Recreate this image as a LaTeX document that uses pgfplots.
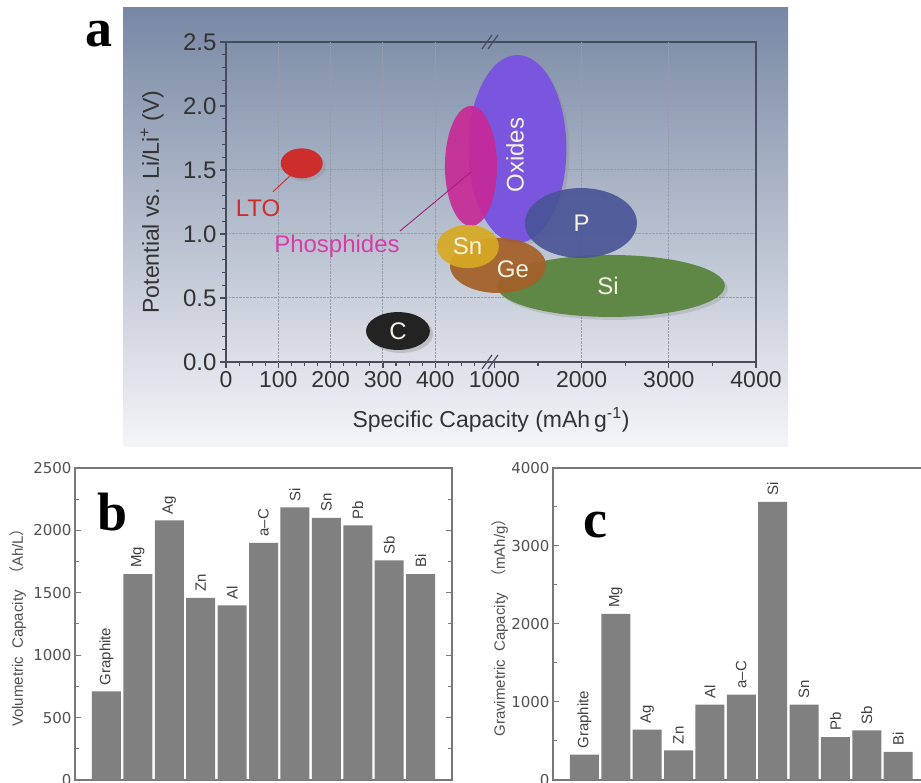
\documentclass[border=0pt]{standalone}
\usepackage{pgfplots}
\pgfplotsset{compat=1.18}
\usepackage{pgfplotstable}
\usepackage{fontspec}
\setmainfont{Liberation Sans}
\newfontfamily\dejavu{DejaVu Sans}
\newfontfamily\serifb{Liberation Serif}
\newfontfamily\cjk{Noto Sans CJK SC}
\usetikzlibrary{shadows}

\definecolor{bgtop}{RGB}{120,136,164}
\definecolor{bgmid}{RGB}{182,191,207}
\definecolor{bgbot}{RGB}{244,245,248}
\definecolor{axisdark}{RGB}{70,76,92}
\definecolor{gridc}{RGB}{150,156,172}
\definecolor{ltoc}{RGB}{205,45,45}
\definecolor{phosc}{RGB}{200,40,150}
\definecolor{phostext}{RGB}{215,60,170}
\definecolor{oxc}{RGB}{122,85,222}
\definecolor{pc}{RGB}{72,84,150}
\definecolor{sic}{RGB}{95,135,70}
\definecolor{gec}{RGB}{165,95,40}
\definecolor{snc}{RGB}{215,170,35}
\definecolor{cc}{RGB}{35,35,35}
\definecolor{lbl}{RGB}{245,242,225}
\definecolor{barc}{RGB}{128,128,128}
\definecolor{framec}{RGB}{120,120,120}
\definecolor{tickc}{RGB}{80,80,80}

\newcommand\fa{\fontsize{23}{26}\selectfont}
\newcommand\fe{\fontsize{24}{27}\selectfont}
\newcommand\fb{\dejavu\fontsize{15}{17}\selectfont}
\newcommand\fl{\fontsize{15}{17}\selectfont}

\pgfplotstableread{
x y label
0 710 Graphite
1 1650 Mg
2 2080 Ag
3 1460 Zn
4 1400 Al
5 1900 a–C
6 2185 Si
7 2100 Sn
8 2040 Pb
9 1760 Sb
10 1650 Bi
}\volumetric

\pgfplotstableread{
x y label
0 325 Graphite
1 2130 Mg
2 645 Ag
3 380 Zn
4 965 Al
5 1095 a–C
6 3565 Si
7 965 Sn
8 550 Pb
9 635 Sb
10 360 Bi
}\gravimetric

\pgfplotsset{
  barpanel/.style={
    scale only axis, anchor=south west,
    xmin=-1, xmax=11, ymin=0,
    ybar, bar width=29pt,
    xtick=\empty,
    ytick pos=both,
    tick align=inside,
    major tick length=6pt, minor tick length=4pt,
    minor y tick num=1,
    axis line style={draw=framec, line width=1.2pt},
    tick style={draw=framec, line width=1pt},
    scaled y ticks=false,
    /pgf/number format/1000 sep={},
    /pgf/number format/assume math mode=true,
    yticklabel style={font=\fb, text=tickc},
    ylabel style={font=\fl, text=tickc, anchor=center},
    clip=false,
    every node near coord/.append style={rotate=90, anchor=west, font=\fl, text=black!75, inner xsep=6pt, inner ysep=0pt},
  }
}

\begin{document}
\begin{tikzpicture}
\path[use as bounding box] (0pt,0pt) rectangle (921pt,783pt);
\clip (0pt,0pt) rectangle (921pt,783pt);

% background of panel a
\shade[top color=bgtop, middle color=bgmid, bottom color=bgbot] (123pt,336pt) rectangle (788pt,775pt);

\begin{axis}[
  at={(226pt,421pt)}, anchor=south west, scale only axis,
  width=530pt, height=320pt,
  xmin=0, xmax=1013, ymin=0, ymax=2.5,
  axis line style={draw=axisdark, line width=1.5pt},
  xtick={0,100,200,300,400,513,679.67,846.33,1013},
  xticklabels={0,100,200,300,400,1000,2000,3000,4000},
  minor xtick={25,50,75,125,150,175,225,250,275,325,350,375,425,450,475,596.33,763,929.67},
  ytick={0,0.5,1,1.5,2,2.5},
  yticklabels={0.0,0.5,1.0,1.5,2.0,2.5},
  minor ytick={0.1,0.2,0.3,0.4,0.6,0.7,0.8,0.9,1.1,1.2,1.3,1.4,1.6,1.7,1.8,1.9,2.1,2.2,2.3,2.4},
  xtick pos=bottom, ytick pos=left,
  tick align=outside,
  major tick length=6pt, minor tick length=4pt,
  tick style={draw=axisdark, line width=1.1pt},
  ymajorgrids,
  grid style={densely dotted, draw=gridc, line width=1pt},
  extra x ticks={100,200,300,400,679.67,846.33},
  extra x tick labels={},
  extra x tick style={grid=major, major tick length=0pt},
  ticklabel style={font=\fa, text=black!80},
  yticklabel style={font=\fontsize{24}{26}\selectfont},
  xlabel={Specific Capacity (mAh\,g\textsuperscript{-1})},
  ylabel={Potential vs. Li/Li\textsuperscript{+} (V)},
  xlabel style={font=\fa, text=black!80, at={(axis description cs:0.5,-0.181)}, anchor=center},
  ylabel style={font=\fa, text=black!80, at={(axis description cs:-0.1396,0.5)}, anchor=center},
  clip=false,
]
\addplot[draw=none] coordinates {(0,0)};
% regions
\draw[fill=oxc, draw=none, drop shadow={shadow xshift=3pt, shadow yshift=-3pt, opacity=0.25}] (axis cs:557,1.664) ellipse [x radius=93.6, y radius=0.734];
\draw[fill=sic, draw=none, drop shadow={shadow xshift=3pt, shadow yshift=-3pt, opacity=0.25}] (axis cs:735.7,0.594) ellipse [x radius=217.8, y radius=0.242];
\draw[fill=pc, fill opacity=0.9, draw=none] (axis cs:678.4,1.086) ellipse [x radius=107, y radius=0.273];
\draw[fill=phosc, fill opacity=0.9, draw=none] (axis cs:468.2,1.531) ellipse [x radius=49.7, y radius=0.469];
\draw[fill=gec, fill opacity=0.92, draw=none] (axis cs:519.8,0.754) ellipse [x radius=91.7, y radius=0.215];
\draw[fill=snc, fill opacity=0.92, draw=none] (axis cs:462.4,0.902) ellipse [x radius=59.2, y radius=0.168];
\draw[fill=ltoc, draw=none, drop shadow={shadow xshift=3pt, shadow yshift=-3pt, opacity=0.25}] (axis cs:144.7,1.552) ellipse [x radius=40.1, y radius=0.117];
\draw[fill=cc, draw=none, drop shadow={shadow xshift=3pt, shadow yshift=-3pt, opacity=0.3}] (axis cs:328.7,0.242) ellipse [x radius=61.1, y radius=0.148];
% leader lines
\draw[ltoc, line width=0.9pt] (axis cs:144.6,1.539) -- (axis cs:89.8,1.330);
\draw[phosc!80!black, line width=0.9pt] (axis cs:468.2,1.484) -- (axis cs:332.5,1.023);
% labels
\node[font=\fe, text=lbl, rotate=90] at (axis cs:552.3,1.617) {Oxides};
\node[font=\fe, text=lbl] at (axis cs:679.7,1.086) {P};
\node[font=\fe, text=lbl] at (axis cs:730,0.594) {Si};
\node[font=\fe, text=lbl] at (axis cs:548.4,0.727) {Ge};
\node[font=\fe, text=lbl] at (axis cs:461.9,0.901) {Sn};
\node[font=\fe, text=lbl] at (axis cs:328.7,0.242) {C};
\node[font=\fe, text=ltoc] at (axis cs:61.2,1.203) {LTO};
\node[font=\fe, text=phostext] at (axis cs:212.1,0.906) {Phosphides};
% axis breaks
\draw[axisdark, line width=1.2pt] (axis cs:489.2,2.445) -- (axis cs:508.3,2.555);
\draw[axisdark, line width=1.2pt] (axis cs:500.7,2.445) -- (axis cs:519.8,2.555);
\draw[axisdark, line width=1.2pt] (axis cs:489.2,-0.055) -- (axis cs:508.3,0.055);
\draw[axisdark, line width=1.2pt] (axis cs:500.7,-0.055) -- (axis cs:519.8,0.055);
\end{axis}

% panel b
\begin{axis}[barpanel,
  at={(75pt,3pt)}, width=377pt, height=312pt,
  ymax=2500, ytick={0,500,1000,1500,2000,2500},
  ylabel={Volumetric\ \ Capacity\ \ {\cjk （}Ah/L{\cjk ）}},
  every axis y label/.append style={at={(axis description cs:-0.151,0.5)}},
]
\addplot[fill=barc, draw=none, nodes near coords, point meta=explicit symbolic]
  table[x=x, y=y, meta=label] {\volumetric};
\end{axis}

% panel c
\begin{axis}[barpanel,
  at={(553pt,3pt)}, width=376.6pt, height=312pt,
  ymax=4000, ytick={0,1000,2000,3000,4000},
  ylabel={Gravimetric\ \ Capacity\ \ {\cjk （}mAh/g{\cjk ）}},
  every axis y label/.append style={at={(axis description cs:-0.141,0.5)}},
]
\addplot[fill=barc, draw=none, nodes near coords, point meta=explicit symbolic]
  table[x=x, y=y, meta=label] {\gravimetric};
\end{axis}

% panel letters
\node[font=\serifb\bfseries\fontsize{54}{54}\selectfont] at (99pt,749pt) {a};
\node[font=\serifb\bfseries\fontsize{54}{54}\selectfont] at (113pt,271pt) {b};
\node[font=\serifb\bfseries\fontsize{54}{54}\selectfont] at (595pt,258pt) {c};
\end{tikzpicture}
\end{document}
